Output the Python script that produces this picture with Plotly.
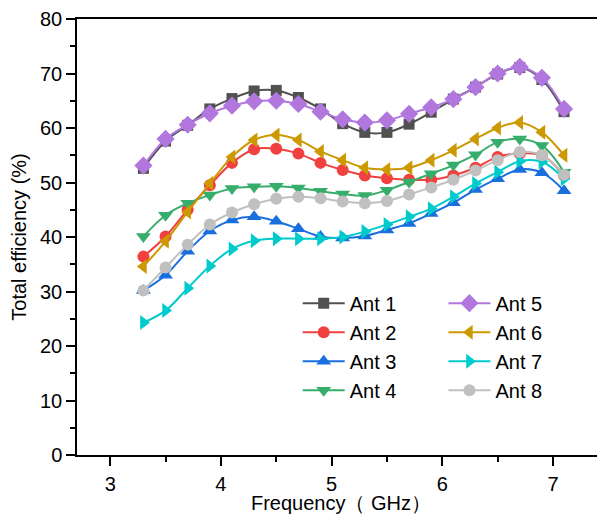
import plotly.graph_objects as go

freq = [3.3, 3.5, 3.7, 3.9, 4.1, 4.3, 4.5, 4.7, 4.9, 5.1, 5.3, 5.5, 5.7, 5.9, 6.1, 6.3, 6.5, 6.7, 6.9, 7.1]

ant1 = [52.6, 57.6, 60.5, 63.5, 65.4, 66.8, 66.9, 65.6, 63.5, 60.8, 59.2, 59.2, 60.7, 62.9, 65.3, 67.5, 69.9, 71.1, 68.9, 63.0]
ant2 = [36.4, 40.1, 45.0, 49.5, 53.6, 56.1, 56.2, 55.3, 53.6, 52.3, 51.3, 50.8, 50.5, 50.5, 51.3, 52.7, 54.7, 55.3, 55.0, 51.3]
ant3 = [30.2, 33.0, 37.4, 41.1, 43.1, 43.7, 42.9, 41.5, 40.1, 39.8, 40.2, 41.3, 42.5, 44.3, 46.3, 48.7, 50.7, 52.4, 51.8, 48.5]
ant4 = [40.1, 44.0, 46.2, 47.7, 48.9, 49.2, 49.3, 49.0, 48.4, 47.9, 47.6, 48.6, 50.1, 51.6, 53.2, 55.1, 57.4, 58.0, 56.8, 51.9]
ant5 = [53.1, 58.0, 60.6, 62.7, 64.1, 64.9, 65.0, 64.4, 63.0, 61.6, 61.0, 61.4, 62.6, 63.8, 65.3, 67.5, 70.0, 71.2, 69.2, 63.5]
ant6 = [34.6, 39.2, 44.6, 49.8, 54.7, 57.8, 58.7, 57.8, 55.7, 54.1, 52.7, 52.4, 52.7, 54.1, 55.9, 58.0, 60.0, 61.0, 59.2, 55.0]
ant7 = [24.3, 26.5, 30.6, 34.7, 37.8, 39.3, 39.7, 39.7, 39.7, 40.0, 41.0, 42.3, 43.7, 45.2, 47.4, 49.8, 51.9, 53.9, 53.8, 50.7]
ant8 = [30.2, 34.4, 38.6, 42.3, 44.5, 46.0, 47.0, 47.4, 47.1, 46.5, 46.2, 46.6, 47.8, 49.1, 50.5, 52.2, 54.1, 55.6, 55.0, 51.4]

names = ["Ant 1", "Ant 2", "Ant 3", "Ant 4", "Ant 5", "Ant 6", "Ant 7", "Ant 8"]
series = [ant1, ant2, ant3, ant4, ant5, ant6, ant7, ant8]
colors = ["#515151", "#F14040", "#1A6FDF", "#37AD6B", "#B177DE", "#CC9900", "#00CBCC", "#C0C0C0"]
symbols = ["square", "circle", "triangle-up", "triangle-down", "diamond", "triangle-left", "triangle-right", "circle"]
msizes = [11, 12, 13, 13, 14, 13, 13, 12]

fig = go.Figure()
for i, (n, s) in enumerate(zip(names, series)):
    fig.add_trace(go.Scatter(
        x=freq, y=s, name=n, mode="lines+markers",
        line=dict(color=colors[i], width=2, shape="spline", smoothing=1.0),
        marker=dict(symbol=symbols[i], size=msizes[i], color=colors[i]),
        legend="legend" if i < 4 else "legend2",
    ))

font_family = "Liberation Sans, Arial, sans-serif"
legend_common = dict(
    bgcolor="rgba(0,0,0,0)", borderwidth=0,
    font=dict(family=font_family, size=20, color="black"),
    xanchor="left", yanchor="top", tracegroupgap=0, itemwidth=42,
)

fig.update_layout(
    width=597, height=506,
    margin=dict(l=69, r=0, t=8, b=59),
    plot_bgcolor="white", paper_bgcolor="white",
    font=dict(family=font_family, size=20, color="black"),
    showlegend=True,
    legend=dict(x=0.418, y=0.393, **legend_common),
    legend2=dict(x=0.694, y=0.393, **legend_common),
    xaxis=dict(
        range=[2.7, 7.47], tick0=3, dtick=1, showgrid=False, zeroline=False,
        showline=True, linecolor="black", linewidth=1.5, mirror=True,
        ticks="outside", ticklen=9, tickwidth=1.5, tickcolor="black",
        ticklabelstandoff=1, ticklabeloverflow="allow",
        minor=dict(dtick=0.5, tick0=3, ticks="outside", ticklen=5, tickwidth=1.5, tickcolor="black"),
        title=dict(text="Frequency（ GHz）", standoff=0, font=dict(size=20)),
        tickfont=dict(size=20),
    ),
    yaxis=dict(
        range=[0, 80], tick0=0, dtick=10, showgrid=False, zeroline=False,
        showline=True, linecolor="black", linewidth=1.5, mirror=False,
        ticks="outside", ticklen=9, tickwidth=1.5, tickcolor="black",
        ticklabeloverflow="allow",
        minor=dict(dtick=5, tick0=0, ticks="outside", ticklen=5, tickwidth=1.5, tickcolor="black"),
        title=dict(text="Total efficiency (%)", standoff=8, font=dict(size=20)),
        tickfont=dict(size=20),
    ),
)

fig.write_html("out.html")
